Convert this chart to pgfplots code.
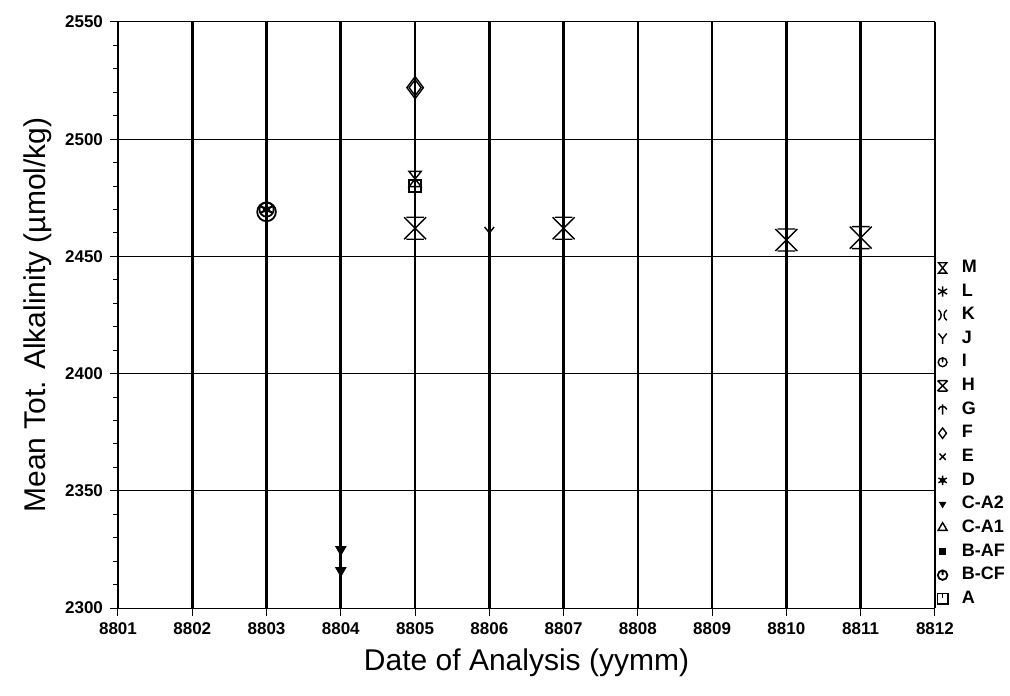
\documentclass[border=0pt]{standalone}
\usepackage{fontspec}
\setmainfont{Liberation Sans}
\usepackage{pgfplots}
\pgfplotsset{compat=1.18}

\newcommand{\ms}{\pgfplotmarksize}
\pgfdeclareplotmark{mH}{%
  \pgfpathmoveto{\pgfpoint{-\ms}{\ms}}\pgfpathlineto{\pgfpoint{\ms}{-\ms}}%
  \pgfpathmoveto{\pgfpoint{\ms}{\ms}}\pgfpathlineto{\pgfpoint{-\ms}{-\ms}}%
  \pgfpathmoveto{\pgfpoint{-0.8\ms}{\ms}}\pgfpathlineto{\pgfpoint{0.8\ms}{\ms}}%
  \pgfpathmoveto{\pgfpoint{-0.8\ms}{-\ms}}\pgfpathlineto{\pgfpoint{0.8\ms}{-\ms}}%
  \pgfusepathqstroke}
\pgfdeclareplotmark{mM}{%
  \pgfpathmoveto{\pgfpoint{-0.8\ms}{\ms}}\pgfpathlineto{\pgfpoint{0.8\ms}{\ms}}%
  \pgfpathlineto{\pgfpoint{-0.8\ms}{-\ms}}\pgfpathlineto{\pgfpoint{0.8\ms}{-\ms}}%
  \pgfpathclose\pgfusepathqstroke}
\pgfdeclareplotmark{mK}{%
  \pgfpathmoveto{\pgfpoint{-0.8\ms}{\ms}}%
  \pgfpathcurveto{\pgfpoint{-0.1\ms}{0.5\ms}}{\pgfpoint{-0.1\ms}{-0.5\ms}}{\pgfpoint{-0.8\ms}{-\ms}}%
  \pgfpathmoveto{\pgfpoint{0.8\ms}{\ms}}%
  \pgfpathcurveto{\pgfpoint{0.1\ms}{0.5\ms}}{\pgfpoint{0.1\ms}{-0.5\ms}}{\pgfpoint{0.8\ms}{-\ms}}%
  \pgfusepathqstroke}
\pgfdeclareplotmark{mJ}{%
  \pgfpathmoveto{\pgfpoint{-0.8\ms}{\ms}}\pgfpathlineto{\pgfpoint{0pt}{0pt}}\pgfpathlineto{\pgfpoint{0.8\ms}{\ms}}%
  \pgfpathmoveto{\pgfpoint{0pt}{0pt}}\pgfpathlineto{\pgfpoint{0pt}{-\ms}}%
  \pgfusepathqstroke}
\pgfdeclareplotmark{mI}{%
  \pgfpathcircle{\pgfpointorigin}{0.85\ms}%
  \pgfpathmoveto{\pgfpoint{0pt}{\ms}}\pgfpathlineto{\pgfpoint{0pt}{0pt}}%
  \pgfusepathqstroke}
\pgfdeclareplotmark{mA}{%
  \pgfpathrectangle{\pgfpoint{-\ms}{-\ms}}{\pgfpoint{2\ms}{2\ms}}%
  \pgfpathmoveto{\pgfpoint{0pt}{\ms}}\pgfpathlineto{\pgfpoint{0pt}{0.1\ms}}%
  \pgfusepathqstroke}
\pgfdeclareplotmark{mG}{%
  \pgfpathmoveto{\pgfpoint{0pt}{-\ms}}\pgfpathlineto{\pgfpoint{0pt}{\ms}}%
  \pgfpathmoveto{\pgfpoint{-0.8\ms}{0pt}}%
  \pgfpathcurveto{\pgfpoint{-0.6\ms}{0.8\ms}}{\pgfpoint{0.6\ms}{0.8\ms}}{\pgfpoint{0.8\ms}{0pt}}%
  \pgfusepathqstroke}
\pgfdeclareplotmark{mD}{%
  \pgfpathmoveto{\pgfpoint{0pt}{\ms}}\pgfpathlineto{\pgfpoint{0pt}{-\ms}}%
  \pgfpathmoveto{\pgfpoint{0.866\ms}{0.5\ms}}\pgfpathlineto{\pgfpoint{-0.866\ms}{-0.5\ms}}%
  \pgfpathmoveto{\pgfpoint{0.866\ms}{-0.5\ms}}\pgfpathlineto{\pgfpoint{-0.866\ms}{0.5\ms}}%
  \pgfusepathqstroke
  \pgfpathcircle{\pgfpointorigin}{0.55\ms}\pgfusepathqfill}

\begin{document}
\begin{tikzpicture}
\begin{axis}[name=ax, scale only axis, width=408.5pt, height=293pt,
  xmin=8801, xmax=8812, ymin=2300, ymax=2550,
  xtick={8801,8802,...,8812}, ytick={2300,2350,...,2550},
  minor y tick num=4,
  /pgf/number format/1000 sep={},
  /pgf/number format/assume math mode=true,
  ticklabel style={font=\fontsize{8.5}{10}\selectfont\bfseries},
  xlabel={Date of Analysis (yymm)},
  ylabel={Mean Tot. Alkalinity (µmol/kg)},
  label style={font=\fontsize{15}{18}\selectfont},
  grid=major,
  x grid style={black, line width=1.3pt},
  y grid style={black, line width=0.5pt},
  axis x line*=bottom, axis y line*=left,
  x axis line style={black, line width=0.5pt},
  y axis line style={black, line width=1.3pt},
  tick style={black, line width=0.5pt},
  tick align=outside,
  major tick length=4pt, minor tick length=2.5pt,
  legend style={at={(1,-0.005)}, anchor=south west, draw=none, fill=none,
    font=\fontsize{9}{10}\selectfont\bfseries, row sep=0.1pt,
    inner xsep=1pt, inner ysep=0pt,
    /tikz/every odd column/.append style={column sep=5pt}},
  legend cell align=left,
  legend image code/.code={\draw[#1] plot coordinates {(0.12cm,0cm)};},
]
% 8803 cluster
\addplot[only marks, mark=mI, mark size=5.5pt, line width=0.9pt, forget plot] coordinates {(8803,2469)};
\addplot[only marks, mark=mI, mark size=4.2pt, line width=0.9pt, forget plot] coordinates {(8803,2470)};
\addplot[only marks, mark=mD, mark size=3.2pt, line width=0.9pt, forget plot] coordinates {(8803,2470)};
\addplot[only marks, mark=asterisk, mark size=3.2pt, line width=0.9pt, forget plot] coordinates {(8803,2470)};
% 8804 C-A2
\addplot[only marks, mark=triangle*, mark options={rotate=180}, mark size=3pt, forget plot] coordinates {(8804,2325) (8804,2316)};
% 8805
\addplot[only marks, mark=diamond, mark size=5.5pt, line width=0.7pt, forget plot] coordinates {(8805,2522)};
\addplot[only marks, mark=diamond, mark size=4pt, line width=0.7pt, forget plot] coordinates {(8805,2522)};
\addplot[only marks, mark=mM, mark size=3.8pt, line width=0.7pt, forget plot] coordinates {(8805,2483)};
\addplot[only marks, mark=mA, mark size=3pt, line width=0.7pt, forget plot] coordinates {(8805,2480)};
% H
\addplot[only marks, mark=mH, mark size=5.5pt, line width=0.7pt, forget plot] coordinates {(8805,2462) (8807,2462) (8810,2457) (8811,2458)};
% J
\addplot[only marks, mark=mJ, mark size=3pt, line width=0.7pt, forget plot] coordinates {(8806,2460)};

% legend
\addlegendimage{only marks, mark=mM, mark size=2.6pt, line width=0.7pt}\addlegendentry{M}
\addlegendimage{only marks, mark=asterisk, mark size=2.6pt, line width=0.7pt}\addlegendentry{L}
\addlegendimage{only marks, mark=mK, mark size=2.6pt, line width=0.7pt}\addlegendentry{K}
\addlegendimage{only marks, mark=mJ, mark size=2.6pt, line width=0.7pt}\addlegendentry{J}
\addlegendimage{only marks, mark=mI, mark size=2.6pt, line width=0.7pt}\addlegendentry{I}
\addlegendimage{only marks, mark=mH, mark size=2.6pt, line width=0.7pt}\addlegendentry{H}
\addlegendimage{only marks, mark=mG, mark size=2.6pt, line width=0.7pt}\addlegendentry{G}
\addlegendimage{only marks, mark=diamond, mark size=2.6pt, line width=0.7pt}\addlegendentry{F}
\addlegendimage{only marks, mark=x, mark size=2.2pt, line width=0.7pt}\addlegendentry{E}
\addlegendimage{only marks, mark=mD, mark size=2.4pt, line width=0.7pt}\addlegendentry{D}
\addlegendimage{only marks, mark=triangle*, mark options={rotate=180}, mark size=1.8pt}\addlegendentry{C-A2}
\addlegendimage{only marks, mark=triangle, mark size=2.6pt, line width=0.7pt}\addlegendentry{C-A1}
\addlegendimage{only marks, mark=square*, mark size=1.5pt}\addlegendentry{B-AF}
\addlegendimage{only marks, mark=mI, mark size=2.8pt, line width=0.9pt}\addlegendentry{B-CF}
\addlegendimage{only marks, mark=mA, mark size=2.6pt, line width=0.7pt}\addlegendentry{A}
\end{axis}
\pgfresetboundingbox
\path ([xshift=-59pt,yshift=-43.5pt]ax.south west) rectangle ([xshift=37.5pt,yshift=11pt]ax.north east);
\end{tikzpicture}
\end{document}
